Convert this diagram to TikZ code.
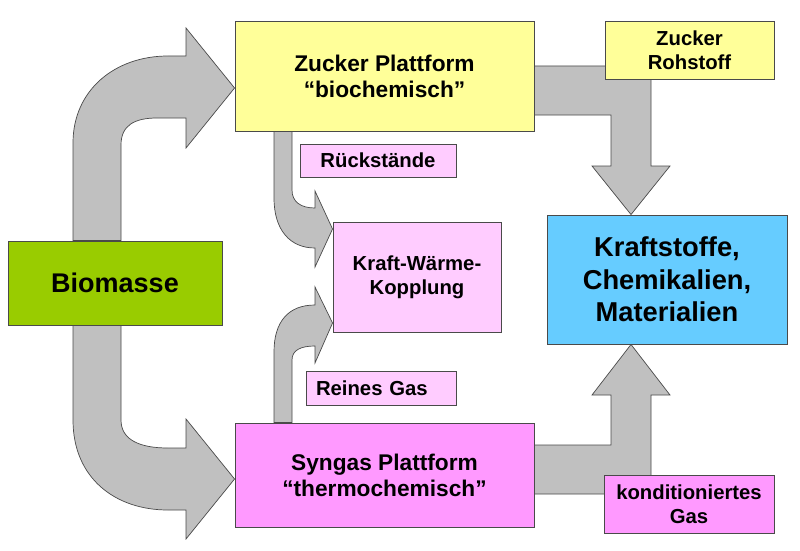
\documentclass[tikz,border=0pt]{standalone}
\usepackage{fontspec}
\setmainfont{Liberation Sans}
\usetikzlibrary{calc}
\definecolor{zyellow}{HTML}{FFFF99}
\definecolor{lpink}{HTML}{FFCCFF}
\definecolor{mpink}{HTML}{FF99FF}
\definecolor{bgreen}{HTML}{99CC00}
\definecolor{sblue}{HTML}{66CCFF}
\definecolor{agray}{HTML}{C0C0C0}
\definecolor{edgecol}{HTML}{4A4A4A}
\pgfdeclarelayer{back}
\pgfdeclarelayer{arrows}
\pgfsetlayers{back,arrows,main}
\begin{document}
\begin{tikzpicture}[x=1pt,y=-1pt,
  box/.style={draw=edgecol, line width=0.9pt, inner sep=0pt, align=center},
  fsmall/.style={font=\bfseries\fontsize{20.3}{24}\selectfont},
  fmed/.style={font=\bfseries\fontsize{22.7}{26}\selectfont},
  flarge/.style={font=\bfseries\fontsize{27.3}{32.5}\selectfont},
  blockarrow/.style={fill=agray, draw=edgecol, line width=0.7pt, line join=miter}]
\useasboundingbox (0,0) rectangle (800,551);
\begin{pgfonlayer}{back}
\fill[white] (0,0) rectangle (800,551);
\end{pgfonlayer}

\node[box, fill=zyellow, minimum width=299pt, minimum height=110pt, fmed] (zp) at (384.5,76) {Zucker Plattform\\“biochemisch”};
\node[box, fill=zyellow, minimum width=169pt, minimum height=58pt, fsmall] (zr) at (689.5,50) {Zucker\\Rohstoff};
\node[box, fill=lpink, minimum width=156pt, minimum height=33pt, fsmall] (rs) at (378,160.5) {Rückstände};
\node[box, fill=lpink, minimum width=168pt, minimum height=110pt, fsmall] (kwk) at (417,277) {Kraft-Wärme-\\Kopplung};
\node[box, fill=sblue, minimum width=240pt, minimum height=129pt, flarge] (ks) at (667,279.5) {Kraftstoffe,\\Chemikalien,\\Materialien};
\node[box, fill=bgreen, minimum width=214pt, minimum height=84pt, font=\bfseries\fontsize{27}{32}\selectfont] (bm) at (115,283) {Biomasse};
\node[box, fill=lpink, text width=130pt, inner xsep=10pt, align=left, minimum height=34pt, fsmall] (rg) at (381,388) {Reines Gas};
\node[box, fill=mpink, minimum width=299pt, minimum height=104pt, fmed] (sp) at (384.5,475) {Syngas Plattform\\“thermochemisch”};
\node[box, fill=mpink, minimum width=170pt, minimum height=58pt, fsmall] (kg) at (689,504) {konditioniertes\\Gas};

\begin{pgfonlayer}{arrows}
% Biomasse -> Zucker Plattform
\draw[blockarrow] (73,0 |- bm.north) -- (73,143) .. controls (73,90) and (115,56) .. (168,56) -- (186,56) -- (186,28) -- (zp.west |- 0,88) -- (186,148) -- (186,118) -- (157,118) .. controls (135,118) and (121,125) .. (121,145) -- (121,0 |- bm.north) -- cycle;
% Biomasse -> Syngas Plattform
\draw[blockarrow] (73,0 |- bm.south) -- (73,420) .. controls (73,478) and (115,510) .. (168,510) -- (186,510) -- (186,539) -- (sp.west |- 0,479) -- (186,419) -- (186,448) -- (168,448) .. controls (140,448) and (121,440) .. (121,420) -- (121,0 |- bm.south) -- cycle;
% Zucker Plattform -> KWK
\draw[blockarrow] (274,0 |- zp.south) -- (274,198) .. controls (274,230) and (290,248) .. (315,248) -- (315,267) -- (kwk.west |- 0,229) -- (315,191) -- (315,208) .. controls (301,208) and (292,202) .. (292,190) -- (292,0 |- zp.south) -- cycle;
% Syngas Plattform -> KWK
\draw[blockarrow] (274,0 |- sp.north) -- (274,352) .. controls (274,322) and (288,305) .. (315,305) -- (315,287) -- (kwk.west |- 0,323) -- (315,363) -- (315,346) .. controls (301,346) and (292,350) .. (292,360) -- (292,0 |- sp.north) -- cycle;
% Zucker Plattform -> Kraftstoffe
\draw[blockarrow] (zp.east |- 0,66) -- (651,66) -- (651,166) -- (670,166) -- (631,0 |- ks.north) -- (592,166) -- (611,166) -- (611,115) -- (zp.east |- 0,115) -- cycle;
% Syngas Plattform -> Kraftstoffe
\draw[blockarrow] (sp.east |- 0,494) -- (651,494) -- (651,395) -- (670,395) -- (631,0 |- ks.south) -- (592,395) -- (611,395) -- (611,445) -- (sp.east |- 0,445) -- cycle;
\end{pgfonlayer}
\end{tikzpicture}
\end{document}
